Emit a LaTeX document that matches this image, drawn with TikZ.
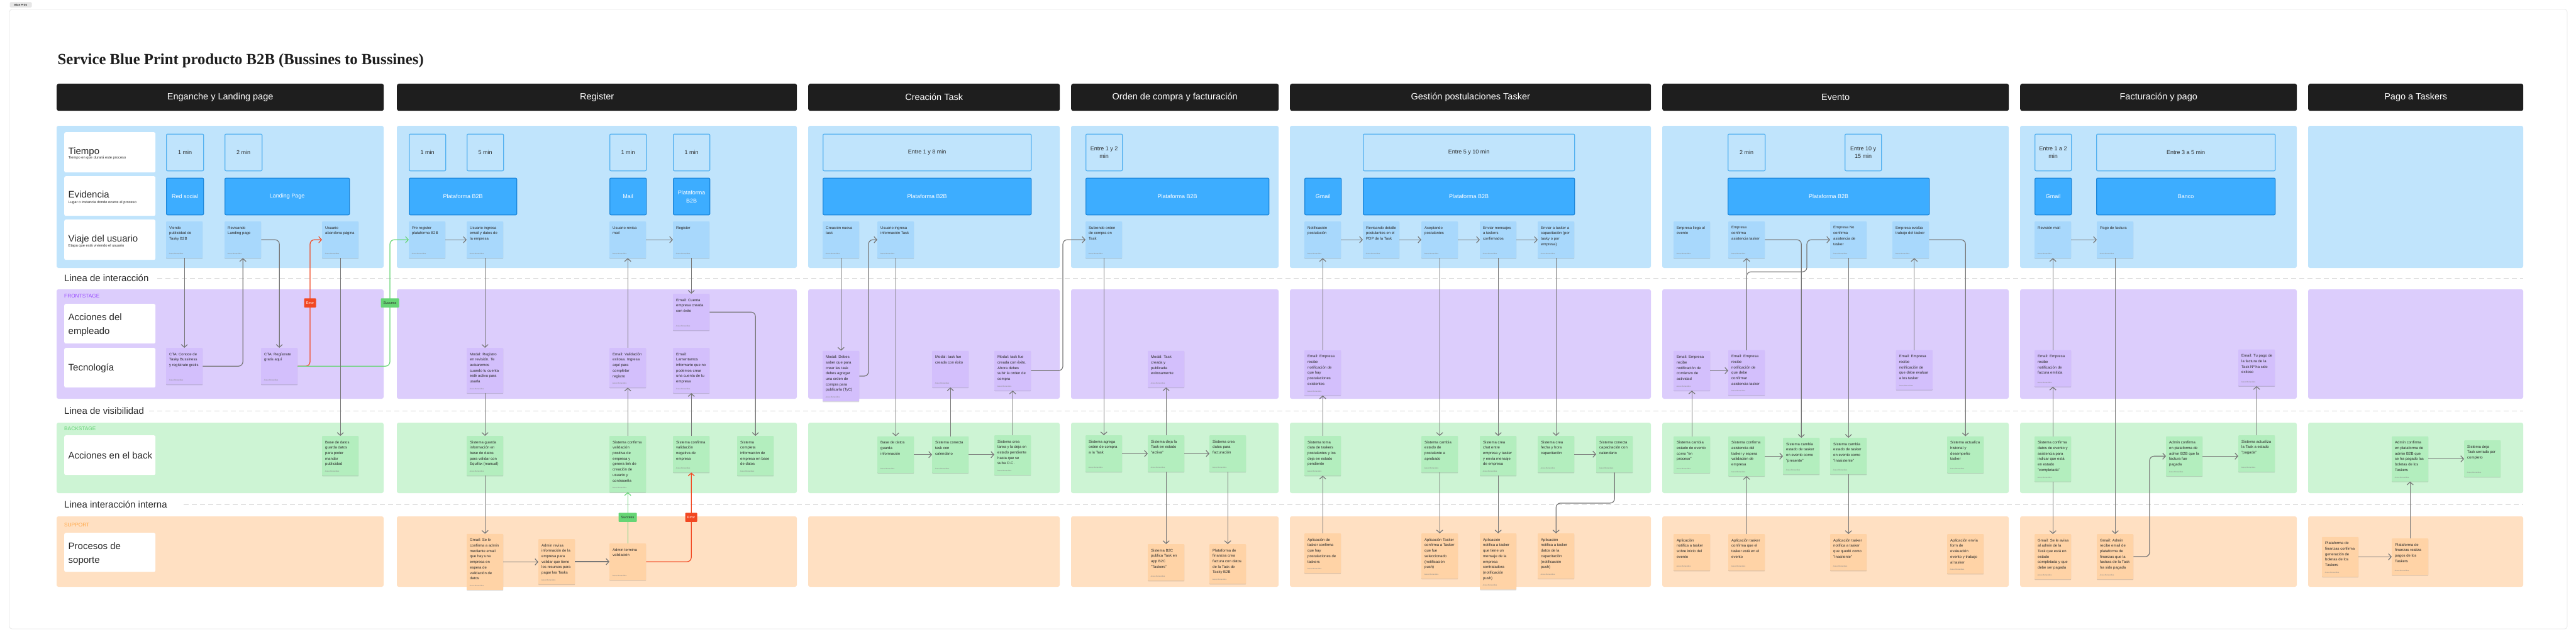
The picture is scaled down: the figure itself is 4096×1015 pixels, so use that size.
\documentclass[tikz,border=0pt]{standalone}
\usepackage{fontspec}
\setmainfont{Liberation Sans}
\newfontfamily\titlefont{Liberation Serif}
\usetikzlibrary{arrows.meta,calc,shadows}

\definecolor{bluepanel}{HTML}{C0E4FC}
\definecolor{purplepanel}{HTML}{DCCDFC}
\definecolor{greenpanel}{HTML}{CDF4D4}
\definecolor{orangepanel}{HTML}{FFE0C2}
\definecolor{jcardc}{HTML}{A8D8FC}
\definecolor{pcardc}{HTML}{D3BFFC}
\definecolor{gcardc}{HTML}{B3EEBE}
\definecolor{ocardc}{HTML}{FFD3A6}
\definecolor{tborder}{HTML}{52B0F0}
\definecolor{efill}{HTML}{3DADFF}
\definecolor{eborder}{HTML}{1B86DA}
\definecolor{hdrc}{HTML}{1E1E1E}
\definecolor{txtdark}{HTML}{2B2B2B}
\definecolor{authc}{HTML}{8A8A8A}
\definecolor{dashc}{HTML}{D4D4D4}
\definecolor{arrc}{HTML}{777777}
\definecolor{redc}{HTML}{F24822}
\definecolor{greenc}{HTML}{66D575}
\definecolor{framec}{HTML}{E6E6E6}
\definecolor{frontc}{HTML}{9747FF}
\definecolor{backc}{HTML}{5FD16F}
\definecolor{suppc}{HTML}{FFA23D}
\definecolor{titlec}{HTML}{1E1E1E}

\tikzset{
 cardbase/.style={inner sep=0pt, minimum width=58pt, rounded corners=0.8pt,
   drop shadow={shadow xshift=0pt, shadow yshift=-1.2pt, opacity=0.14, fill=black}},
 jcard/.style={cardbase, fill=jcardc},
 pcard/.style={cardbase, fill=pcardc},
 gcard/.style={cardbase, fill=gcardc},
 ocard/.style={cardbase, fill=ocardc},
 cardtxt/.style={inner sep=0pt, align=left, text=txtdark, font=\fontsize{6}{8.7}\selectfont},
 authtxt/.style={inner sep=0pt, text=authc, font=\fontsize{3}{3.5}\selectfont},
 tbox/.style={draw=tborder, line width=1.3pt, fill=bluepanel, rounded corners=2pt, inner sep=0pt,
   minimum height=58.5pt, align=center, text=txtdark, font=\fontsize{9}{12.7}\selectfont},
 ebox/.style={draw=eborder, line width=1.3pt, fill=efill, rounded corners=2pt, inner sep=0pt,
   minimum height=58.5pt, align=center, text=white, font=\fontsize{9}{12.7}\selectfont},
 hdr/.style={fill=hdrc, rounded corners=3pt, minimum height=43pt, inner sep=0pt, text=white,
   font=\fontsize{14.5}{17}\selectfont},
 lcard/.style={fill=white, rounded corners=2.5pt, inner sep=0pt, minimum width=145pt, anchor=north west},
 lbig/.style={inner sep=0pt, anchor=base west, text=txtdark, font=\fontsize{15}{18}\selectfont},
 lsmall/.style={inner sep=0pt, anchor=base west, text=txtdark, font=\fontsize{5.8}{7}\selectfont},
 stagelbl/.style={inner sep=0pt, anchor=west, font=\fontsize{8.3}{10}\selectfont},
 dline/.style={draw=dashc, line width=1pt, dash pattern=on 8pt off 5pt},
 conn/.style={draw=arrc, line width=1.2pt, rounded corners=7pt, -{Straight Barb[length=4.5pt,width=10pt]}},
 connr/.style={conn, draw=redc},
 conng/.style={conn, draw=greenc},
 errtag/.style={fill=redc, text=white, inner sep=0pt, minimum width=19pt, minimum height=14.5pt,
   rounded corners=1pt, font=\fontsize{5.5}{6}\selectfont},
 suctag/.style={fill=greenc, text=txtdark, inner sep=0pt, minimum width=29pt, minimum height=14.5pt,
   rounded corners=1pt, font=\fontsize{5.5}{6}\selectfont},
}

% card: name, style, left x, top y, number of lines, text
\newcommand\mkcard[6]{%
  \pgfmathsetmacro\cardh{max(58,19.5+8.7*#5)}%
  \node[#2, minimum height=\cardh pt, anchor=north west] (#1) at (#3,#4) {};%
  \node[cardtxt, anchor=north west] (#1t) at ($(#1.north west)+(5,7.6)$) {#6};%
  \node[authtxt, anchor=base west] (#1a) at ($(#1.south west)+(4.5,-5.7)$) {Jesus Benavides};%
}
% time box: name, x1, x2, text
\newcommand\mktime[4]{%
  \pgfmathsetmacro\bw{#3-#2}%
  \node[tbox, minimum width=\bw pt, anchor=north west] (#1) at (#2,212.5) {#4};%
}
% evidence box
\newcommand\mkevid[4]{%
  \pgfmathsetmacro\bw{#3-#2}%
  \node[ebox, minimum width=\bw pt, anchor=north west] (#1) at (#2,282.5) {#4};%
}
% column: header name, x1, x2, header text
\newcommand\mkcol[4]{%
  \pgfmathsetmacro\cw{#3-#2}%
  \fill[bluepanel, rounded corners=3pt] (#2,200) rectangle (#3,426);%
  \fill[purplepanel, rounded corners=3pt] (#2,460) rectangle (#3,634);%
  \fill[greenpanel, rounded corners=3pt] (#2,672) rectangle (#3,784);%
  \fill[orangepanel, rounded corners=3pt] (#2,821) rectangle (#3,933);%
  \node[hdr, minimum width=\cw pt, anchor=north west] (#1) at (#2,133) {#4};%
}

\begin{document}
\begin{tikzpicture}[x=1pt,y=-1pt]
\fill[white] (0,0) rectangle (4096,1015);
\useasboundingbox (0,0) rectangle (4096,1015);

% frame and tag
\draw[draw=framec, fill=white, line width=0.8pt, rounded corners=4pt] (15,15) rectangle (4082,1000);
\node[fill=framec, rounded corners=1.5pt, inner sep=0pt, minimum width=35pt, minimum height=8.5pt,
  text=txtdark, font=\bfseries\fontsize{4.3}{5}\selectfont] (bptag) at (33,7.5) {Blue Print};

% title
\node[anchor=base west, inner sep=0pt, text=titlec, font=\titlefont\bfseries\fontsize{24.7}{28}\selectfont]
  (title) at (91.5,102) {Service Blue Print producto B2B (Bussines to Bussines)};

% columns
\mkcol{h1}{90}{610}{Enganche y Landing page}
\mkcol{h2}{631}{1267}{Register}
\mkcol{h3}{1285}{1685}{Creación Task}
\mkcol{h4}{1703}{2033}{Orden de compra y facturación}
\mkcol{h5}{2051}{2625}{Gestión postulaciones Tasker}
\mkcol{h6}{2643}{3194}{Evento}
\mkcol{h7}{3212}{3652}{Facturación y pago}
\mkcol{h8}{3670}{4012}{Pago a Taskers}

% lines
\node[lbig] (lint) at (102,447.4) {Linea de interacción};
\node[lbig] (lvis) at (102,658.4) {Linea de visibilidad};
\node[lbig] (lintern) at (102,807.4) {Linea interacción interna};
\draw[dline] (250,442) -- (4012,442);
\draw[dline] (236.5,653) -- (4012,653);
\draw[dline] (292,802) -- (4012,802);

% stage labels
\node[stagelbl, text=frontc] (sfront) at (102,470.7) {FRONTSTAGE};
\node[stagelbl, text=backc] (sback) at (102,682) {BACKSTAGE};
\node[stagelbl, text=suppc] (ssupp) at (102,835) {SUPPORT};

% label cards
\node[lcard, minimum height=64pt] (lc1) at (102,210) {};
\node[lbig] (lc1a) at (108.5,245.4) {Tiempo};
\node[lsmall] (lc1b) at (108.5,252.8) {Tiempo en que durará este proceso};
\node[lcard, minimum height=63pt] (lc2) at (102,280) {};
\node[lbig] (lc2a) at (108.5,314.4) {Evidencia};
\node[lsmall] (lc2b) at (108.5,323.1) {Lugar o instancia donde ocurre el proceso};
\node[lcard, minimum height=64pt] (lc3) at (102,349) {};
\node[lbig] (lc3a) at (108.5,384.4) {Viaje del usuario};
\node[lsmall] (lc3b) at (108.5,392.8) {Etapa que está viviendo el usuario};
\node[lcard, minimum height=63pt] (lc4) at (102,483) {};
\node[lbig] (lc4a) at (108.5,509.7) {Acciones del};
\node[lbig] (lc4b) at (108.5,531.4) {empleado};
\node[lcard, minimum height=63pt] (lc5) at (102,553) {};
\node[lbig] (lc5a) at (108.5,589.7) {Tecnología};
\node[lcard, minimum height=63pt] (lc6) at (102,692) {};
\node[lbig] (lc6a) at (108.5,729.4) {Acciones en el back};
\node[lcard, minimum height=62pt] (lc7) at (102,847) {};
\node[lbig] (lc7a) at (108.5,873.4) {Procesos de};
\node[lbig] (lc7b) at (108.5,895) {soporte};

% time boxes
\mktime{t1a}{264}{323}{1 min}
\mktime{t1b}{357}{416}{2 min}
\mktime{t2a}{650}{708}{1 min}
\mktime{t2b}{742}{800}{5 min}
\mktime{t2c}{969}{1027}{1 min}
\mktime{t2d}{1070}{1128}{1 min}
\mktime{t3a}{1308}{1639}{Entre 1 y 8 min}
\mktime{t4a}{1726}{1784}{Entre 1 y 2\\min}
\mktime{t5a}{2167}{2503}{Entre 5 y 10 min}
\mktime{t6a}{2747}{2806}{2 min}
\mktime{t6b}{2933}{2991}{Entre 10 y\\15 min}
\mktime{t7a}{3235}{3293}{Entre 1 a 2\\min}
\mktime{t7b}{3333}{3617}{Entre 3 a 5 min}

% evidence boxes
\mkevid{e1a}{264}{323}{Red social}
\mkevid{e1b}{357}{555}{Landing Page}
\mkevid{e2a}{650}{821}{Plataforma B2B}
\mkevid{e2b}{969}{1027}{Mail}
\mkevid{e2c}{1070}{1128}{Plataforma\\B2B}
\mkevid{e3a}{1308}{1639}{Plataforma B2B}
\mkevid{e4a}{1726}{2017}{Plataforma B2B}
\mkevid{e5a}{2074}{2132}{Gmail}
\mkevid{e5b}{2167}{2503}{Plataforma B2B}
\mkevid{e6a}{2747}{3067}{Plataforma B2B}
\mkevid{e7a}{3235}{3293}{Gmail}
\mkevid{e7b}{3333}{3617}{Banco}

% ---------- column 1
\mkcard{viendo}{jcard}{264}{352}{3}{Viendo\\publicidad de\\Tasky B2B}
\mkcard{revisando}{jcard}{357}{352}{2}{Revisando\\Landing page}
\mkcard{abandona}{jcard}{512}{352}{2}{Usuario\\abandona página}
\mkcard{ctaconoce}{pcard}{264}{553}{3}{CTA: Conoce de\\Tasky Bussiness\\y regístrate gratis}
\mkcard{ctareg}{pcard}{415}{553}{2}{CTA: Regístrate\\gratis aquí}
\mkcard{bdpub}{gcard}{512}{693}{5}{Base de datos\\guarda datos\\para poder\\mandar\\publicidad}

% ---------- column 2
\mkcard{prereg}{jcard}{650}{352}{2}{Pre register\\plataforma B2B}
\mkcard{ingresa}{jcard}{742}{352}{3}{Usuario ingresa\\email y datos de\\la empresa}
\mkcard{revisa}{jcard}{969}{352}{2}{Usuario revisa\\mail}
\mkcard{register}{jcard}{1070}{352}{1}{Register}
\mkcard{emailcuenta}{pcard}{1070}{467}{3}{Email: Cuenta\\empresa creada\\con éxito}
\mkcard{modalreg}{pcard}{742}{553}{6}{Modal: Registro\\en revisión. Te\\avisaremos\\cuando tu cuenta\\esté activa para\\usarla}
\mkcard{emailvalid}{pcard}{969}{553}{5}{Email: Validación\\exitosa. Ingresa\\aquí para\\completar\\registro}
\mkcard{emaillam}{pcard}{1070}{553}{6}{Email:\\Lamentamos\\informarte que no\\podemos crear\\una cuenta de tu\\empresa}
\mkcard{sistguarda}{gcard}{742}{693}{5}{Sistema guarda\\información en\\base de datos\\para validar con\\Equifax (manual)}
\mkcard{sistpos}{gcard}{969}{693}{8}{Sistema confirma\\validación\\positiva de\\empresa y\\genera link de\\creación de\\usuario y\\contraseña}
\mkcard{sistneg}{gcard}{1070}{693}{4}{Sistema confirma\\validación\\negativa de\\empresa}
\mkcard{sistcompleta}{gcard}{1172}{693}{5}{Sistema\\completa\\información de\\empresa en base\\de datos}
\mkcard{gmailconf}{ocard}{742}{848.7}{8}{Gmail: Se le\\confirma a admin\\mediante email\\que hay una\\empresa en\\espera de\\validación de\\datos}
\mkcard{adminrevisa}{ocard}{856}{857}{6}{Admin revisa\\información de la\\empresa para\\validar que tiene\\los recursos para\\pagar las Tasks}
\mkcard{admintermina}{ocard}{969}{864}{2}{Admin termina\\validación}

% ---------- column 3
\mkcard{creacion}{jcard}{1308}{352}{2}{Creación nueva\\task}
\mkcard{ingtask}{jcard}{1395}{352}{2}{Usuario ingresa\\información Task}
\mkcard{modaldebes}{pcard}{1308}{557.6}{7}{Modal: Debes\\saber que para\\crear las task\\debes agregar\\una orden de\\compra para\\publicarla (TyC)}
\mkcard{modalcreada}{pcard}{1482}{557.6}{2}{Modal: task fue\\creada con éxito}
\mkcard{modalahora}{pcard}{1581}{557.6}{5}{Modal: task fue\\creada con éxito.\\Ahora debes\\subir la orden de\\compra}
\mkcard{bdinfo}{gcard}{1395}{693.6}{3}{Base de datos\\guarda\\información}
\mkcard{conecta}{gcard}{1482}{693.6}{3}{Sistema conecta\\task con\\calendario}
\mkcard{creatarea}{gcard}{1581}{692}{5}{Sistema crea\\tarea y la deja en\\estado pendiente\\hasta que se\\suba O.C.}

% ---------- column 4
\mkcard{subiendo}{jcard}{1726}{352}{3}{Subiendo orden\\de compra en\\Task}
\mkcard{modaltask}{pcard}{1825}{557.6}{4}{Modal: Task\\creada y\\publicada\\exitosamente}
\mkcard{agrega}{gcard}{1726}{692}{3}{Sistema agrega\\orden de compra\\a la Task}
\mkcard{deja}{gcard}{1825}{692}{3}{Sistema deja la\\Task en estado\\"activa"}
\mkcard{creadatos}{gcard}{1923}{692}{3}{Sistema crea\\datos para\\facturación}
\mkcard{b2c}{ocard}{1825}{865}{4}{Sistema B2C\\publica Task en\\app B2C\\"Taskers"}
\mkcard{finanzas}{ocard}{1923}{865}{5}{Plataforma de\\finanzas crea\\factura con datos\\de la Task de\\Tasky B2B}

% ---------- column 5
\mkcard{notif}{jcard}{2074}{352}{2}{Notificación\\postulación}
\mkcard{revdet}{jcard}{2167}{352}{3}{Revisando detalle\\postulantes en el\\PDP de la Task}
\mkcard{acept}{jcard}{2260}{352}{2}{Aceptando\\postulantes}
\mkcard{envmsj}{jcard}{2353}{352}{3}{Enviar mensajes\\a taskers\\confirmados}
\mkcard{envcap}{jcard}{2445}{352}{4}{Enviar a tasker a\\capacitación (por\\tasky o por\\empresa)}
\mkcard{emailpost}{pcard}{2074}{556.7}{6}{Email: Empresa\\recibe\\notificación de\\que hay\\postulaciones\\existentes}
\mkcard{sisttoma}{gcard}{2074}{693}{5}{Sistema toma\\data de taskers\\postulantes y los\\deja en estado\\pendiente}
\mkcard{sistcambia}{gcard}{2260}{693}{4}{Sistema cambia\\estado de\\postulante a\\aprobado}
\mkcard{sistchat}{gcard}{2353}{693}{5}{Sistema crea\\chat entre\\empresa y tasker\\y envía mensaje\\de empresa}
\mkcard{sistfecha}{gcard}{2445}{693}{3}{Sistema crea\\fecha y hora\\capacitación}
\mkcard{sistcal}{gcard}{2538}{693}{3}{Sistema conecta\\capacitación con\\calendario}
\mkcard{apptasker}{ocard}{2074}{848}{5}{Aplicación de\\tasker confirma\\que hay\\postulaciones de\\taskers}
\mkcard{appsel}{ocard}{2260}{848}{6}{Aplicación Tasker\\confirma a Tasker\\que fue\\seleccionado\\(notificación\\push)}
\mkcard{appmsg}{ocard}{2353}{848}{8}{Aplicación\\notifica a tasker\\que tiene un\\mensaje de la\\empresa\\contratadora\\(notificación\\push)}
\mkcard{appcap}{ocard}{2445}{848}{6}{Aplicación\\notifica a tasker\\datos de la\\capacitación\\(notificación\\push)}

% ---------- column 6
\mkcard{llega}{jcard}{2661}{352}{2}{Empresa llega al\\evento}
\mkcard{empconfirma}{jcard}{2748}{352}{3}{Empresa\\confirma\\asistencia tasker}
\mkcard{noconfirma}{jcard}{2910}{352}{4}{Empresa No\\confirma\\asistencia de\\tasker}
\mkcard{empevalua}{jcard}{3009}{352}{2}{Empresa evalúa\\trabajo del tasker}
\mkcard{emailcomienzo}{pcard}{2661}{557.6}{5}{Email: Empresa\\recibe\\notificación de\\comienzo de\\actividad}
\mkcard{emailconfirmar}{pcard}{2748}{556.5}{6}{Email: Empresa\\recibe\\notificación de\\que debe\\confirmar\\asistencia tasker}
\mkcard{emailevaluar}{pcard}{3014.6}{556.5}{5}{Email: Empresa\\recibe\\notificación de\\que debe evaluar\\a los tasker}
\mkcard{sistproceso}{gcard}{2661}{693.6}{4}{Sistema cambia\\estado de evento\\como "en\\proceso"}
\mkcard{sistasist}{gcard}{2748}{693.6}{5}{Sistema confirma\\asistencia del\\tasker y espera\\validación de\\empresa}
\mkcard{presente}{gcard}{2835}{696}{4}{Sistema cambia\\estado de tasker\\en evento como\\"presente"}
\mkcard{inasistente}{gcard}{2910}{696}{4}{Sistema cambia\\estado de tasker\\en evento como\\"inasistente"}
\mkcard{actualiza}{gcard}{3096}{693.6}{4}{Sistema actualiza\\historial y\\desempeño\\tasker}
\mkcard{appinicio}{ocard}{2661}{849}{4}{Aplicación\\notifica a tasker\\sobre inicio del\\evento}
\mkcard{appconfirma}{ocard}{2748}{849}{4}{Aplicación tasker\\confirma que el\\tasker está en el\\evento}
\mkcard{appinasist}{ocard}{2910}{849}{4}{Aplicación tasker\\notifica a tasker\\que quedó como\\"inasitente"}
\mkcard{appform}{ocard}{3096}{849}{5}{Aplicación envía\\form de\\evaluación\\evento y trabajo\\al tasker}

% ---------- column 7
\mkcard{revmail}{jcard}{3235}{352}{1}{Revisión mail}
\mkcard{pagofact}{jcard}{3334}{352}{1}{Pago de factura}
\mkcard{emailfact}{pcard}{3235}{556.5}{4}{Email: Empresa\\recibe\\notificación de\\factura emitida}
\mkcard{emailtupago}{pcard}{3559}{555.5}{4}{Email: Tu pago de\\la factura de la\\Task Nº ha sido\\exitoso}
\mkcard{sistcompletada}{gcard}{3235}{693.6}{6}{Sistema confirma\\datos de evento y\\asistencia para\\indicar que está\\en estado\\"completada"}
\mkcard{adminconf}{gcard}{3444}{693.6}{5}{Admin confirma\\en plataforma de\\admin B2B que la\\factura fue\\pagada}
\mkcard{actpagada}{gcard}{3559}{692}{3}{Sistema actualiza\\la Task a estado\\"pagada"}
\mkcard{gmailavisa}{ocard}{3235}{849}{6}{Gmail: Se le avisa\\al admin de la\\Task que está en\\estado\\completada y que\\debe ser pagada}
\mkcard{gmailadmin}{ocard}{3334}{849}{6}{Gmail: Admin\\recibe email de\\plataforma de\\finanzas que la\\factura de la Task\\ha sido pagada}

% ---------- column 8
\mkcard{adminboletas}{gcard}{3803}{693.6}{6}{Admin confirma\\en plataforma de\\admin B2B que\\se ha pagado las\\boletas de los\\Taskers}
\mkcard{cerrada}{gcard}{3918}{700}{3}{Sistema deja\\Task cerrada por\\completo}
\mkcard{platconf}{ocard}{3692}{853.6}{5}{Plataforma de\\finanzas confirma\\generación de\\boletas de los\\Taskers}
\mkcard{platrealiza}{ocard}{3803}{856}{4}{Plataforma de\\finanzas realiza\\pagos de los\\Taskers}

% ================= connectors
% column 1
\draw[conn] (viendo.south) -- (ctaconoce.north);
\draw[conn] (ctaconoce.east) -| (revisando.south);
\draw[conn] (revisando.east) -| (ctareg.north);
\draw[connr] (ctareg.east) -| ($(abandona.west)+(-19,0)$) -- (abandona.west);
\draw[conng] (ctareg.east) -| ($(prereg.west)+(-30,0)$) -- (prereg.west);
\draw[conn] (abandona.south) -- (bdpub.north);
% column 2
\draw[conn] (prereg.east) -- (ingresa.west);
\draw[conn] (ingresa.south) -- (modalreg.north);
\draw[conn] (revisa.east) -- (register.west);
\draw[conn] (register.south) -- (emailcuenta.north);
\draw[conn] (emailvalid.north) -- (revisa.south);
\draw[conn] (emailcuenta.east) -| (sistcompleta.north);
\draw[conn] (modalreg.south) -- (sistguarda.north);
\draw[conn] (sistpos.north) -- (emailvalid.south);
\draw[conn] (sistneg.north) -- (emaillam.south);
\draw[conn] (sistguarda.south) -- (gmailconf.north);
\draw[conn] (gmailconf.east) -- (gmailconf.east -| adminrevisa.west);
\draw[conn] (adminrevisa.east) -- (adminrevisa.east -| admintermina.west);
\draw[conng] (admintermina.north) -- (sistpos.south);
\draw[connr] (admintermina.east) -| (sistneg.south);
% column 3
\draw[conn] (creacion.south) -- (modaldebes.north);
\draw[conn] (modaldebes.east) -| ($(ingtask.west)+(-14,0)$) -- (ingtask.west);
\draw[conn] (ingtask.south) -- (bdinfo.north);
\draw[conn] (bdinfo.east) -- (bdinfo.east -| conecta.west);
\draw[conn] (conecta.east) -- (conecta.east -| creatarea.west);
\draw[conn] (conecta.north) -- (modalcreada.south);
\draw[conn] (creatarea.north) -- (modalahora.south);
\draw[conn] (modalahora.east) -| ($(subiendo.west)+(-36,0)$) -- (subiendo.west);
% column 4
\draw[conn] (subiendo.south) -- (agrega.north);
\draw[conn] (agrega.east) -- (deja.west);
\draw[conn] (deja.east) -- (creadatos.west);
\draw[conn] (deja.north) -- (modaltask.south);
\draw[conn] (deja.south) -- (b2c.north);
\draw[conn] (creadatos.south) -- (finanzas.north);
% column 5
\draw[conn] (notif.east) -- (revdet.west);
\draw[conn] (revdet.east) -- (acept.west);
\draw[conn] (acept.east) -- (envmsj.west);
\draw[conn] (envmsj.east) -- (envcap.west);
\draw[conn] (apptasker.north) -- (sisttoma.south);
\draw[conn] (sisttoma.north) -- (emailpost.south);
\draw[conn] (emailpost.north) -- (notif.south);
\draw[conn] (acept.south) -- (sistcambia.north);
\draw[conn] (envmsj.south) -- (sistchat.north);
\draw[conn] (envcap.south) -- (sistfecha.north);
\draw[conn] (sistcambia.south) -- (appsel.north);
\draw[conn] (sistchat.south) -- (appmsg.north);
\draw[conn] (sistfecha.east) -- (sistcal.west);
\draw[conn] (sistcal.south) -- ++(0,48.5) -| (appcap.north);
% column 6
\draw[conn] (sistproceso.north) -- (emailcomienzo.south);
\draw[conn] (emailcomienzo.east) -- (emailcomienzo.east -| emailconfirmar.west);
\draw[conn] (emailconfirmar.north) -- (empconfirma.south);
\draw[conn] (emailconfirmar.north) |- ($(noconfirma.west)+(-37,51)$) |- (noconfirma.west);
\draw[conn] (empconfirma.east) -| (presente.north);
\draw[conn] (sistasist.east) -- (sistasist.east -| presente.west);
\draw[conn] (appconfirma.north) -- (sistasist.south);
\draw[conn] (noconfirma.south) -- (inasistente.north);
\draw[conn] (inasistente.south) -- (appinasist.north);
\draw[conn] (emailevaluar.north) -- (emailevaluar.north |- empevalua.south);
\draw[conn] (empevalua.east) -| (actualiza.north);
% column 7
\draw[conn] (revmail.east) -- (pagofact.west);
\draw[conn] (emailfact.north) -- (revmail.south);
\draw[conn] (sistcompletada.north) -- (emailfact.south);
\draw[conn] (sistcompletada.south) -- (gmailavisa.north);
\draw[conn] (pagofact.south) -- (gmailadmin.north);
\draw[conn] (gmailadmin.east) -| ($(adminconf.west)+(-26,0)$) -- (adminconf.west);
\draw[conn] (adminconf.east) -- (adminconf.east -| actpagada.west);
\draw[conn] (actpagada.north) -- (emailtupago.south);
% column 8
\draw[conn] (platconf.east) -- (platconf.east -| platrealiza.west);
\draw[conn] (platrealiza.north) -- (adminboletas.south);
\draw[conn] (adminboletas.east) -- (adminboletas.east -| cerrada.west);

% tags
\node[errtag] (err1) at (493,481.5) {Error};
\node[suctag] (suc1) at (620,481.5) {Success};
\node[suctag] (suc2) at (998,822.7) {Success};
\node[errtag] (err2) at (1099,822.7) {Error};
\end{tikzpicture}
\end{document}
